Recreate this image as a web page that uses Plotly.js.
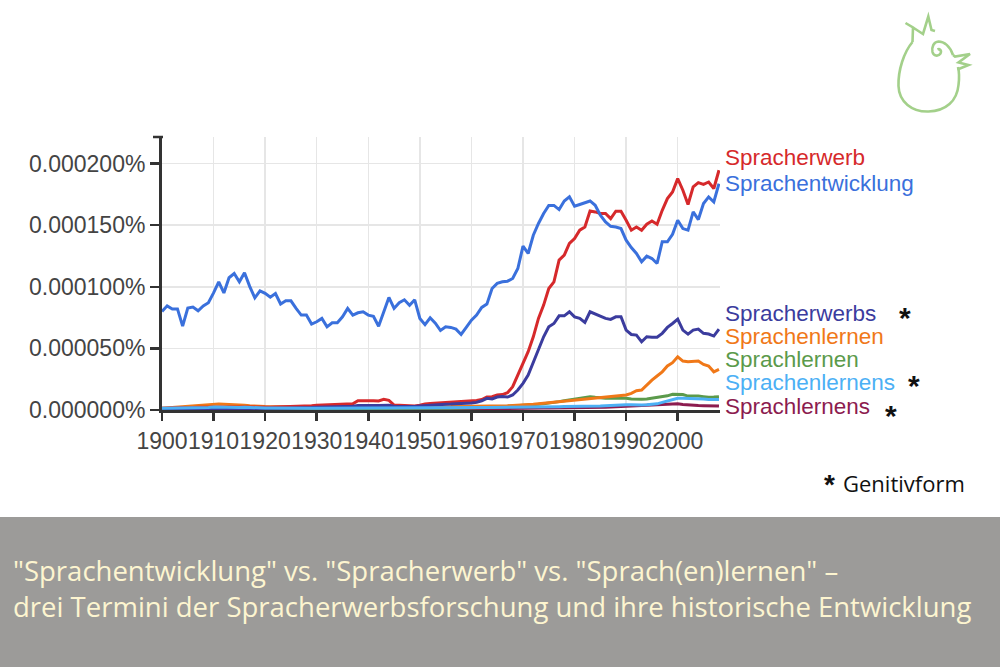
<!DOCTYPE html>
<html>
<head>
<meta charset="utf-8">
<script src="https://cdn.plot.ly/plotly-3.0.1.min.js"></script>
<style>html,body{margin:0;padding:0;background:#fff;}#chart{width:1000px;height:667px;}</style>
</head>
<body>
<div id="chart"></div>
<script>
// ---- DATA (values in millionths of a percent, i.e. 80 = 0.000080%) ----
const startYear = 1900, endYear = 2008;
const years = Array.from({length: endYear - startYear + 1}, (_, i) => startYear + i);

const seriesNames = ["Spracherwerb", "Sprachentwicklung", "Spracherwerbs", "Sprachenlernen", "Sprachlernen", "Sprachenlernens", "Sprachlernens"];

const sprachentwicklung = [
  80.0, 84.5, 82.0, 82.0, 68.0, 82.7, 83.5, 80.5, 84.5, 87.0,
  95.0, 104.0, 95.0, 107.3, 110.7, 104.0, 111.4, 100.3, 91.0, 96.7,
  94.7, 91.5, 94.5, 86.0, 88.6, 88.6, 82.4, 77.0, 77.0, 69.7,
  71.6, 74.3, 67.5, 70.8, 70.8, 75.6, 82.4, 77.0, 78.9, 79.7,
  77.0, 76.0, 68.0, 79.7, 91.3, 82.4, 87.0, 89.4, 85.0, 89.4,
  74.3, 69.3, 74.8, 70.5, 64.5, 67.5, 67.0, 65.6, 61.3, 67.0,
  72.9, 77.0, 83.2, 85.9, 98.6, 102.7, 104.0, 104.5, 106.7, 114.8,
  132.9, 127.0, 141.8, 151.3, 159.4, 166.0, 166.0, 162.6, 169.6, 172.9,
  165.3, 166.7, 168.3, 169.6, 166.1, 158.0, 152.6, 149.0, 148.5, 147.2,
  137.8, 131.8, 127.0, 120.2, 124.8, 122.9, 118.9, 136.5, 136.5, 142.6,
  154.0, 147.2, 145.9, 160.7, 154.5, 167.5, 172.9, 168.8, 183.7
];
const spracherwerb = [
  1.5, 1.5, 1.8, 2.0, 2.0, 2.0, 2.0, 2.2, 2.3, 2.5,
  2.7, 2.8, 2.6, 2.5, 2.5, 2.4, 2.3, 2.2, 2.1, 2.1,
  2.2, 2.3, 2.4, 2.5, 2.6, 2.7, 2.8, 3.0, 3.2, 3.5,
  3.8, 4.0, 4.2, 4.6, 4.6, 4.5, 4.8, 5.0, 7.6, 7.8,
  7.6, 7.5, 7.3, 8.6, 7.8, 4.0, 3.8, 3.5, 3.3, 3.2,
  3.8, 4.9, 5.2, 5.5, 5.9, 6.2, 6.5, 6.8, 6.5, 7.0,
  7.3, 7.8, 8.5, 10.5, 10.8, 12.2, 12.5, 14.0, 18.9, 28.4,
  37.8, 47.3, 59.4, 74.3, 85.1, 98.6, 104.0, 121.6, 125.6, 135.1,
  139.1, 145.9, 148.5, 161.5, 160.7, 159.4, 159.4, 155.3, 161.3, 161.3,
  154.0, 145.9, 148.5, 145.9, 150.7, 153.4, 150.7, 162.0, 171.5, 176.9,
  187.7, 178.3, 166.7, 181.0, 184.5, 183.1, 185.0, 179.7, 194.5
];
const spracherwerbs = [
  0.8, 0.8, 0.9, 0.9, 1.0, 1.0, 1.0, 1.1, 1.1, 1.2,
  1.3, 1.4, 1.3, 1.3, 1.2, 1.2, 1.2, 1.2, 1.2, 1.2,
  1.3, 1.3, 1.4, 1.4, 1.5, 1.5, 1.6, 1.7, 1.8, 2.0,
  2.2, 2.3, 2.4, 2.5, 2.6, 2.6, 2.8, 3.0, 3.6, 3.8,
  3.8, 3.7, 3.6, 4.0, 3.8, 3.0, 2.8, 2.8, 2.7, 2.8,
  3.2, 3.6, 4.0, 4.2, 4.5, 4.7, 4.8, 5.0, 4.8, 5.2,
  5.6, 6.2, 7.5, 9.5, 9.0, 10.5, 11.0, 10.5, 12.2, 16.2,
  21.6, 28.4, 39.2, 50.0, 59.4, 67.5, 70.2, 76.4, 76.4, 79.7,
  75.6, 74.3, 71.0, 79.7, 77.8, 76.4, 74.3, 73.5, 75.6, 75.6,
  64.8, 61.3, 60.8, 55.3, 59.4, 59.0, 59.0, 62.2, 67.0, 70.2,
  73.7, 64.8, 61.6, 64.8, 65.6, 62.2, 61.6, 60.0, 65.6
];
const sprachenlernen = [
  1.5, 1.8, 2.0, 2.3, 2.6, 3.0, 3.4, 3.8, 4.2, 4.6,
  5.0, 4.8, 4.6, 4.5, 4.4, 4.2, 3.8, 3.4, 3.0, 2.8,
  2.8, 2.7, 2.7, 2.6, 2.6, 2.6, 2.5, 2.5, 2.5, 2.5,
  2.4, 2.4, 2.3, 2.3, 2.3, 2.3, 2.4, 2.4, 2.4, 2.4,
  2.4, 2.3, 2.3, 2.2, 2.2, 2.3, 2.3, 2.4, 2.4, 2.5,
  2.5, 2.6, 2.6, 2.7, 2.7, 2.8, 2.8, 2.9, 2.9, 3.0,
  3.0, 3.0, 3.1, 3.1, 3.2, 3.2, 3.3, 3.5, 3.7, 3.8,
  4.0, 4.3, 4.6, 5.0, 5.4, 5.8, 6.2, 6.6, 7.0, 7.3,
  7.6, 8.0, 8.5, 9.0, 9.5, 10.0, 10.5, 10.8, 11.3, 11.5,
  12.2, 13.5, 15.7, 16.2, 20.3, 24.3, 27.6, 31.0, 35.7, 38.4,
  43.2, 39.7, 39.2, 39.2, 39.7, 37.0, 35.7, 31.0, 33.0
];
const sprachlernen = [
  0.8, 0.8, 0.9, 0.9, 1.0, 1.0, 1.1, 1.1, 1.2, 1.2,
  1.3, 1.3, 1.2, 1.2, 1.2, 1.1, 1.1, 1.0, 1.0, 1.0,
  1.0, 1.0, 1.0, 1.0, 1.0, 1.0, 1.0, 1.0, 1.0, 1.0,
  1.0, 1.0, 1.0, 1.0, 1.0, 1.0, 1.0, 1.1, 1.1, 1.1,
  1.1, 1.1, 1.1, 1.1, 1.1, 1.0, 1.0, 1.0, 1.1, 1.1,
  1.2, 1.2, 1.3, 1.3, 1.4, 1.4, 1.5, 1.5, 1.6, 1.6,
  1.7, 1.8, 1.9, 2.0, 2.2, 2.4, 2.6, 2.8, 3.0, 3.2,
  3.5, 3.8, 4.2, 4.6, 5.0, 5.4, 6.0, 6.8, 7.5, 8.2,
  8.6, 9.2, 9.8, 10.8, 10.3, 9.8, 9.5, 9.5, 9.5, 9.8,
  9.5, 9.0, 8.6, 8.8, 9.0, 9.5, 10.0, 10.8, 11.5, 12.7,
  12.7, 12.5, 11.3, 11.5, 11.3, 10.8, 10.3, 10.5, 10.8
];
const sprachenlernens = [
  1.5, 1.5, 1.5, 1.6, 1.6, 1.6, 1.7, 1.8, 1.9, 2.0,
  2.5, 2.3, 2.0, 2.0, 2.2, 2.0, 2.3, 2.0, 1.8, 1.7,
  1.6, 1.6, 1.5, 1.5, 1.5, 1.4, 1.4, 1.4, 1.4, 1.4,
  1.4, 1.4, 1.4, 1.4, 1.4, 1.4, 1.5, 1.5, 1.6, 1.6,
  1.7, 1.7, 1.6, 1.6, 1.6, 1.5, 1.5, 1.5, 1.5, 1.5,
  1.6, 1.6, 1.6, 1.7, 1.7, 1.7, 1.8, 1.8, 1.8, 1.9,
  1.9, 2.0, 2.0, 2.1, 2.1, 2.2, 2.2, 2.3, 2.3, 2.4,
  2.4, 2.5, 2.5, 2.6, 2.6, 2.7, 2.7, 2.7, 2.8, 2.8,
  2.8, 2.9, 3.0, 3.0, 3.1, 3.2, 3.5, 3.8, 4.0, 4.2,
  4.2, 4.2, 4.0, 4.0, 4.2, 4.5, 5.0, 6.2, 7.5, 8.5,
  9.5, 9.5, 9.5, 9.3, 9.5, 9.0, 8.6, 8.6, 8.6
];
const sprachlernens = [
  0.3, 0.3, 0.3, 0.3, 0.3, 0.4, 0.4, 0.4, 0.4, 0.4,
  0.5, 0.5, 0.5, 0.5, 0.5, 0.5, 0.5, 0.5, 0.5, 0.5,
  0.5, 0.5, 0.5, 0.5, 0.5, 0.5, 0.5, 0.5, 0.5, 0.5,
  0.5, 0.5, 0.5, 0.5, 0.5, 0.5, 0.5, 0.5, 0.6, 0.6,
  0.6, 0.6, 0.6, 0.6, 0.6, 0.5, 0.5, 0.5, 0.5, 0.5,
  0.6, 0.6, 0.6, 0.7, 0.7, 0.7, 0.8, 0.8, 0.8, 0.9,
  0.9, 1.0, 1.0, 1.1, 1.1, 1.2, 1.2, 1.3, 1.3, 1.4,
  1.4, 1.5, 1.5, 1.6, 1.6, 1.7, 1.7, 1.8, 1.8, 1.9,
  1.9, 2.0, 2.0, 2.1, 2.1, 2.2, 2.3, 2.5, 2.7, 3.0,
  3.2, 3.3, 3.5, 3.8, 4.0, 4.2, 4.5, 4.8, 5.0, 5.2,
  5.0, 4.5, 4.0, 3.8, 3.6, 3.5, 3.4, 3.3, 3.2
];

const xTickVals = [1900, 1910, 1920, 1930, 1940, 1950, 1960, 1970, 1980, 1990, 2000];
const xTickText = ["1900", "1910", "1920", "1930", "1940", "1950", "1960", "1970", "1980", "1990", "2000"];
const yTickVals = [0, 50, 100, 150, 200];
const yTickText = ["0.000000%", "0.000050%", "0.000100%", "0.000150%", "0.000200%"];

const genitiveMarked = ["Spracherwerbs", "Sprachenlernens", "Sprachlernens"];
const titleLine1 = "\"Sprachentwicklung\" vs. \"Spracherwerb\" vs. \"Sprach(en)lernen\" –";
const titleLine2 = "drei Termini der Spracherwerbsforschung und ihre historische Entwicklung";
const footnote = "Genitivform";

// ---- STYLE ----
const colors = {
  "Spracherwerb": "#d6292b",
  "Sprachentwicklung": "#3a70dc",
  "Spracherwerbs": "#3b3c9e",
  "Sprachenlernen": "#f07818",
  "Sprachlernen": "#5b9a4b",
  "Sprachenlernens": "#4cb0f5",
  "Sprachlernens": "#8c1c4f"
};
const dataByName = {
  "Spracherwerb": spracherwerb,
  "Sprachentwicklung": sprachentwicklung,
  "Spracherwerbs": spracherwerbs,
  "Sprachenlernen": sprachenlernen,
  "Sprachlernen": sprachlernen,
  "Sprachenlernens": sprachenlernens,
  "Sprachlernens": sprachlernens
};
const drawOrder = ["Sprachlernens", "Sprachlernen", "Sprachenlernen", "Spracherwerb", "Spracherwerbs", "Sprachenlernens", "Sprachentwicklung"];

const W = 1000, H = 667;
const px = x => x / W;
const py = y => 1 - y / H;
const P = s => s.replace(/(-?\d+\.?\d*)\s*,\s*(-?\d+\.?\d*)/g, (m, a, b) => px(+a).toFixed(5) + ',' + py(+b).toFixed(5));

const traces = drawOrder.map(name => ({
  type: 'scatter', mode: 'lines', name: name,
  x: years, y: dataByName[name],
  line: {color: colors[name], width: 3},
  hoverinfo: 'skip'
}));

const labelFamily = 'Liberation Sans, Arial, sans-serif';
const labelY = {"Spracherwerb": 158, "Sprachentwicklung": 183, "Spracherwerbs": 313, "Sprachenlernen": 336, "Sprachlernen": 359, "Sprachenlernens": 382, "Sprachlernens": 406};
const starPos = {"Spracherwerbs": [905, 311], "Sprachenlernens": [914, 378], "Sprachlernens": [891, 408]};

const annotations = [];
seriesNames.forEach(name => {
  annotations.push({
    xref: 'paper', yref: 'paper', x: px(723), y: py(labelY[name]),
    xanchor: 'left', yanchor: 'middle', showarrow: false,
    text: name, font: {family: labelFamily, size: 22.5, color: colors[name]}
  });
});
genitiveMarked.forEach(name => {
  const p = starPos[name];
  annotations.push({
    xref: 'paper', yref: 'paper', x: px(p[0]), y: py(p[1] + 7),
    xanchor: 'center', yanchor: 'middle', showarrow: false,
    text: '<b>*</b>', font: {family: labelFamily, size: 30, color: '#111'}
  });
});
annotations.push({
  xref: 'paper', yref: 'paper', x: px(829), y: py(484),
  xanchor: 'center', yanchor: 'middle', showarrow: false,
  text: '<b>*</b>', font: {family: labelFamily, size: 28, color: '#111'}
});
annotations.push({
  xref: 'paper', yref: 'paper', x: px(841), y: py(483),
  xanchor: 'left', yanchor: 'middle', showarrow: false,
  text: footnote, font: {family: 'Open Sans, sans-serif', size: 22, color: '#111'}
});
annotations.push({
  xref: 'paper', yref: 'paper', x: px(11), y: py(570),
  xanchor: 'left', yanchor: 'middle', showarrow: false,
  text: titleLine1, font: {family: 'Open Sans, sans-serif', size: 27.5, color: '#fdf5d0'}
});
annotations.push({
  xref: 'paper', yref: 'paper', x: px(11), y: py(606),
  xanchor: 'left', yanchor: 'middle', showarrow: false,
  text: titleLine2, font: {family: 'Open Sans, sans-serif', size: 27.5, color: '#fdf5d0'}
});

const logoColor = '#a3d08a';
const shapes = [
  {type: 'rect', xref: 'paper', yref: 'paper', x0: 0, x1: 1, y0: 0, y1: py(517), fillcolor: '#9c9b99', line: {width: 0}, layer: 'below'},
  {type: 'line', xref: 'paper', yref: 'paper', x0: px(153), x1: px(163), y0: py(137), y1: py(137), line: {color: '#333', width: 2.5}},
  // logo
  {type: 'path', xref: 'paper', yref: 'paper', line: {color: logoColor, width: 2.6},
   path: P('M 912.5,42 C 904,52 898,70 898.5,86 C 899,102 912,112 928.5,111.5 C 946,111 957,101 958.5,85 C 959.5,77 959,71 958,67')},
  {type: 'path', xref: 'paper', yref: 'paper', line: {color: logoColor, width: 2.6},
   path: P('M 905.5,23 L 913,27.5 L 912.5,42 M 913,27.5 L 923,34 L 928.3,16.5 L 931.5,30 L 935,31')},
  {type: 'path', xref: 'paper', yref: 'paper', line: {color: logoColor, width: 2.6},
   path: P('M 953,55 L 955,56.5 L 970,54 L 958.5,62.5 L 968.5,65 L 957.5,69.5')},
  {type: 'path', xref: 'paper', yref: 'paper', line: {color: logoColor, width: 2.6},
   path: P('M 953,55 C 950,46 944,41.5 938.5,41.5 C 933.5,42 931.5,47 932.5,52 C 933.5,56 938,57 940.5,53.5 C 942,50.5 939.5,48.5 937.5,49.5')}
];

const layout = {
  width: W, height: H,
  margin: {l: 0, r: 0, t: 0, b: 0},
  paper_bgcolor: '#ffffff', plot_bgcolor: '#ffffff',
  showlegend: false,
  xaxis: {
    domain: [px(162), px(720)], range: [1900, 2008.2],
    tickmode: 'array', tickvals: xTickVals, ticktext: xTickText, tickangle: 0,
    showgrid: true, gridcolor: '#e6e6e6', gridwidth: 1.5,
    showline: true, linecolor: '#333', linewidth: 3,
    ticks: 'outside', ticklen: 8, tickwidth: 2.5, tickcolor: '#333',
    tickfont: {family: labelFamily, size: 23, color: '#444'}, zeroline: false, fixedrange: true
  },
  yaxis: {
    domain: [py(410), py(137)], range: [0, 221.5],
    tickmode: 'array', tickvals: yTickVals, ticktext: yTickText,
    showgrid: true, gridcolor: '#e6e6e6', gridwidth: 1.5,
    showline: true, linecolor: '#333', linewidth: 3,
    ticks: 'outside', ticklen: 9, tickwidth: 2.5, tickcolor: '#333',
    tickfont: {family: labelFamily, size: 23, color: '#444'}, zeroline: false, fixedrange: true
  },
  annotations: annotations,
  shapes: shapes
};

Plotly.newPlot('chart', traces, layout, {displayModeBar: false, staticPlot: true});
</script>
</body>
</html>
